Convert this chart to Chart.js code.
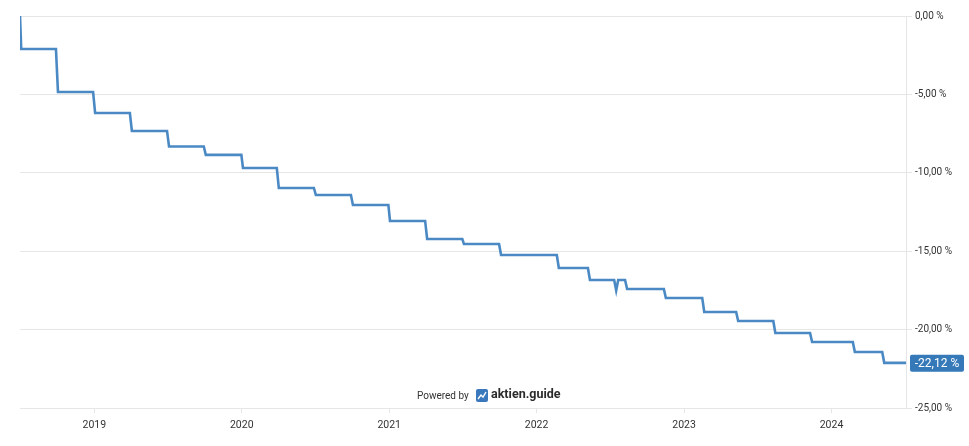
<!DOCTYPE html>
<html>
<head>
<meta charset="utf-8">
<script src="https://cdn.jsdelivr.net/npm/chart.js@4/dist/chart.umd.min.js"></script>
<style>
  html, body { margin: 0; padding: 0; background: #fff; }
  #wrap { width: 969px; height: 446px; position: relative; }
</style>
</head>
<body>
<div id="wrap"><canvas id="perf-chart"></canvas></div>
<script>
// data
const dates = ["2018-07-01", "2018-07-04", "2018-09-28", "2018-10-03", "2018-12-29", "2019-01-03",
  "2019-03-30", "2019-04-04", "2019-06-30", "2019-07-05", "2019-09-29", "2019-10-04",
  "2019-12-31", "2020-01-04", "2020-03-28", "2020-04-02", "2020-06-28", "2020-07-03",
  "2020-09-28", "2020-10-03", "2020-12-30", "2021-01-03", "2021-03-31", "2021-04-05",
  "2021-07-01", "2021-07-05", "2021-09-30", "2021-10-05", "2022-02-20", "2022-02-25",
  "2022-05-08", "2022-05-13", "2022-07-12", "2022-07-17", "2022-07-22", "2022-08-08",
  "2022-08-13", "2022-11-12", "2022-11-17", "2023-02-15", "2023-02-20", "2023-05-10",
  "2023-05-15", "2023-08-10", "2023-08-15", "2023-11-09", "2023-11-14", "2024-02-23",
  "2024-02-28", "2024-05-06", "2024-05-11", "2024-07-04"];
const values = [0, -2.10, -2.10, -4.85, -4.85, -6.19,
  -6.19, -7.33, -7.33, -8.32, -8.32, -8.86,
  -8.86, -9.69, -9.69, -10.97, -10.97, -11.42,
  -11.42, -12.05, -12.05, -13.07, -13.07, -14.22,
  -14.22, -14.54, -14.54, -15.24, -15.24, -16.07,
  -16.07, -16.84, -16.84, -17.50, -16.84, -16.84,
  -17.41, -17.41, -17.98, -17.98, -18.88, -18.88,
  -19.45, -19.45, -20.22, -20.22, -20.79, -20.79,
  -21.43, -21.43, -22.12, -22.12];
const yearTicks = [2019, 2020, 2021, 2022, 2023, 2024];
const yTicks = [0, -5, -10, -15, -20, -25];

const lineColor = '#4a89c4';
const gridColor = '#e6e6e6';
const fmt = (v) => v.toFixed(2).replace('.', ',') + ' %';

// date string -> fractional year
function toYear(d) {
  const t = new Date(d + 'T00:00:00Z');
  const y = t.getUTCFullYear();
  const s = Date.UTC(y, 0, 1), e = Date.UTC(y + 1, 0, 1);
  return y + (t - s) / (e - s);
}

const points = dates.map((d, i) => ({ x: toYear(d), y: values[i] }));

// last value box + watermark
const extras = {
  id: 'extras',
  afterDraw(chart) {
    const ctx = chart.ctx;
    const area = chart.chartArea;
    const yScale = chart.scales.y;
    const last = values[values.length - 1];
    const py = yScale.getPixelForValue(last);

    ctx.save();
    ctx.fillStyle = '#3579b9';
    ctx.beginPath();
    ctx.roundRect(area.right + 4, py - 8, 54, 17, 2);
    ctx.fill();
    ctx.fillStyle = '#fff';
    ctx.font = '12px Roboto';
    ctx.textAlign = 'center';
    ctx.textBaseline = 'middle';
    ctx.fillText(fmt(last), area.right + 31, py + 1);

    // Powered by aktien.guide
    ctx.textAlign = 'left';
    ctx.fillStyle = '#333';
    ctx.font = '10px Roboto';
    ctx.fillText('Powered by', 417, 396);
    ctx.fillStyle = '#3a78bd';
    ctx.beginPath();
    ctx.roundRect(476, 389, 12, 13, 2);
    ctx.fill();
    ctx.strokeStyle = '#fff';
    ctx.lineWidth = 1.4;
    ctx.beginPath();
    ctx.moveTo(478, 399);
    ctx.lineTo(481, 395);
    ctx.lineTo(483, 397);
    ctx.lineTo(486, 392);
    ctx.stroke();
    ctx.fillStyle = '#2b2b2b';
    ctx.font = 'bold 12.5px Roboto';
    ctx.fillText('aktien.guide', 491, 395);
    ctx.restore();
  }
};

new Chart(document.getElementById('perf-chart'), {
  type: 'line',
  data: {
    datasets: [{
      data: points,
      borderColor: lineColor,
      borderWidth: 2.6,
      pointRadius: 0,
      tension: 0,
      fill: false
    }]
  },
  options: {
    responsive: true,
    maintainAspectRatio: false,
    animation: false,
    layout: { padding: { left: 20, top: 16, right: 0, bottom: 0 } },
    plugins: {
      legend: { display: false },
      tooltip: { enabled: false }
    },
    scales: {
      x: {
        type: 'linear',
        min: points[0].x,
        max: points[points.length - 1].x,
        afterBuildTicks: (axis) => { axis.ticks = yearTicks.map(v => ({ value: v })); },
        afterFit: (axis) => { axis.height = 38; },
        grid: { drawOnChartArea: false, drawTicks: true, tickLength: 5, color: gridColor },
        border: { display: true, color: gridColor },
        ticks: {
          color: '#333',
          font: { family: 'Roboto', size: 10.5 },
          padding: 6,
          maxRotation: 0,
          callback: (v) => String(v)
        }
      },
      y: {
        position: 'right',
        min: -25,
        max: 0,
        afterBuildTicks: (axis) => { axis.ticks = yTicks.map(v => ({ value: v })); },
        afterFit: (axis) => { axis.width = 63; },
        grid: { color: gridColor, tickLength: 6 },
        border: { display: true, color: gridColor },
        ticks: {
          color: '#333',
          font: { family: 'Roboto', size: 10 },
          padding: 3,
          callback: (v) => fmt(v)
        }
      }
    }
  },
  plugins: [extras]
});
</script>
</body>
</html>
